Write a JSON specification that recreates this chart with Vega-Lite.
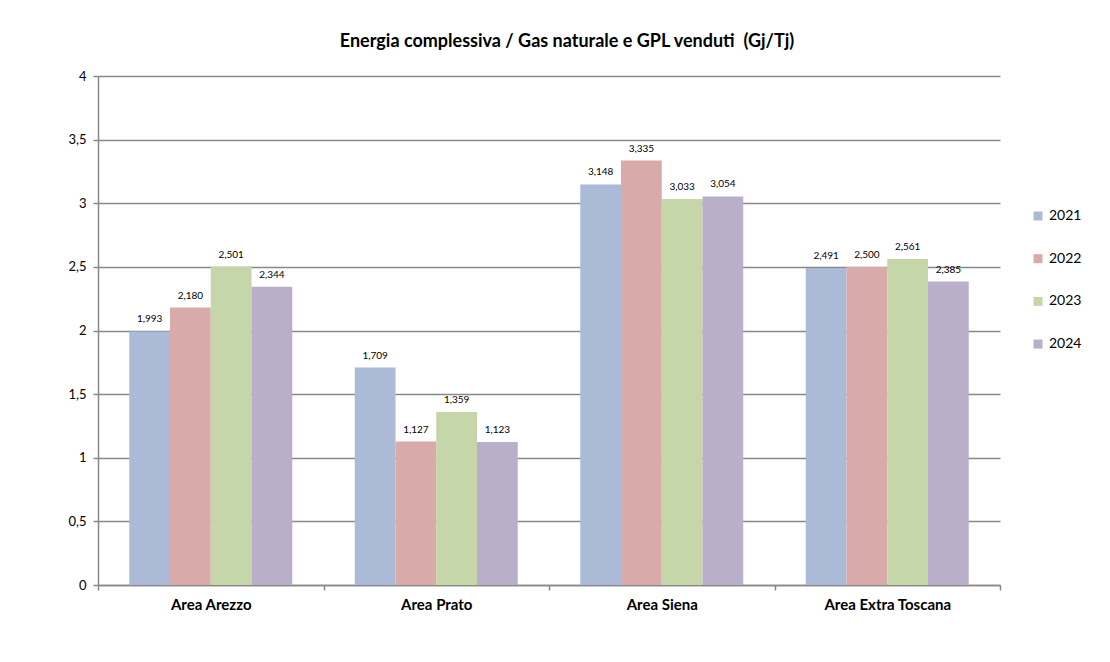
{
  "$schema": "https://vega.github.io/schema/vega-lite/v6.json",
  "width": 902,
  "height": 509,
  "autosize": {"type": "none"},
  "padding": {"left": 98, "top": 76, "right": 110, "bottom": 77},
  "background": "white",
  "title": {
    "text": "Energia complessiva / Gas naturale e GPL venduti \u00a0(Gj/Tj)",
    "font": "Lato",
    "fontSize": 18,
    "fontWeight": "bold",
    "color": "#000000",
    "anchor": "middle",
    "dx": 18,
    "offset": 19
  },
  "data": {
    "values": [
      {"area": "Area Arezzo", "year": "2021", "value": 1.993},
      {"area": "Area Arezzo", "year": "2022", "value": 2.180},
      {"area": "Area Arezzo", "year": "2023", "value": 2.501},
      {"area": "Area Arezzo", "year": "2024", "value": 2.344},
      {"area": "Area Prato", "year": "2021", "value": 1.709},
      {"area": "Area Prato", "year": "2022", "value": 1.127},
      {"area": "Area Prato", "year": "2023", "value": 1.359},
      {"area": "Area Prato", "year": "2024", "value": 1.123},
      {"area": "Area Siena", "year": "2021", "value": 3.148},
      {"area": "Area Siena", "year": "2022", "value": 3.335},
      {"area": "Area Siena", "year": "2023", "value": 3.033},
      {"area": "Area Siena", "year": "2024", "value": 3.054},
      {"area": "Area Extra Toscana", "year": "2021", "value": 2.491},
      {"area": "Area Extra Toscana", "year": "2022", "value": 2.500},
      {"area": "Area Extra Toscana", "year": "2023", "value": 2.561},
      {"area": "Area Extra Toscana", "year": "2024", "value": 2.385}
    ]
  },
  "encoding": {
    "x": {
      "field": "area",
      "type": "nominal",
      "sort": ["Area Arezzo", "Area Prato", "Area Siena", "Area Extra Toscana"],
      "scale": {"paddingInner": 0, "paddingOuter": 0},
      "axis": {
        "title": null,
        "labelAngle": 0,
        "labelFont": "Lato",
        "labelFontSize": 15,
        "labelFontWeight": "bold",
        "labelColor": "#000000",
        "labelPadding": 7,
        "domainColor": "#888888",
        "domainWidth": 1.5,
        "tickColor": "#888888",
        "tickWidth": 1.5,
        "tickSize": 5,
        "tickBand": "extent"
      }
    },
    "xOffset": {
      "field": "year",
      "type": "nominal",
      "scale": {"paddingInner": 0, "paddingOuter": 0.767}
    },
    "y": {
      "field": "value",
      "type": "quantitative",
      "scale": {"domain": [0, 4], "nice": false},
      "axis": {
        "title": null,
        "values": [0, 0.5, 1, 1.5, 2, 2.5, 3, 3.5, 4],
        "format": "~g",
        "labelFont": "Lato",
        "labelFontSize": 13,
        "labelColor": "#000000",
        "labelPadding": 7,
        "domainColor": "#888888",
        "domainWidth": 1.5,
        "tickColor": "#888888",
        "tickWidth": 1.5,
        "tickSize": 5,
        "grid": true,
        "gridColor": "#888888",
        "gridWidth": 1.5
      }
    }
  },
  "layer": [
    {
      "mark": {"type": "bar"},
      "encoding": {
        "color": {
          "field": "year",
          "type": "nominal",
          "scale": {
            "domain": ["2021", "2022", "2023", "2024"],
            "range": ["#aabad7", "#d9aaaa", "#c5d6a9", "#b9afcb"]
          },
          "legend": {
            "title": null,
            "orient": "none",
            "legendX": 933,
            "legendY": 133,
            "symbolType": "square",
            "symbolSize": 81,
            "symbolStrokeWidth": 0,
            "labelFont": "Lato",
            "labelFontSize": 14,
            "labelColor": "#000000",
            "rowPadding": 28.7,
            "labelOffset": 4
          }
        }
      }
    },
    {
      "mark": {"type": "text", "baseline": "bottom", "dy": -7, "fontSize": 10, "font": "Lato", "color": "#000000"},
      "encoding": {
        "text": {"field": "value", "type": "quantitative", "format": ".3f"}
      }
    }
  ],
  "config": {
    "locale": {
      "number": {"decimal": ",", "thousands": ".", "grouping": [3], "currency": ["", " €"]}
    },
    "view": {"stroke": null}
  }
}
